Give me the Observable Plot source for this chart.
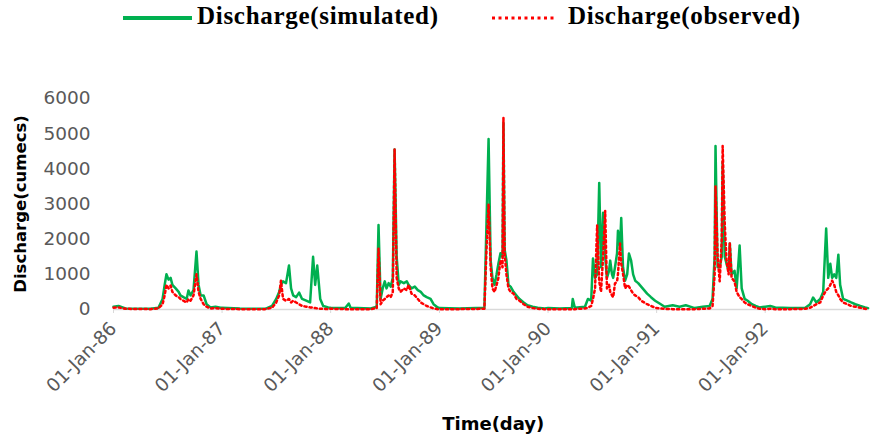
<!DOCTYPE html>
<html>
<head>
<meta charset="utf-8">
<script src="https://cdn.jsdelivr.net/npm/d3@7"></script>
<script src="https://cdn.jsdelivr.net/npm/@observablehq/plot@0.6"></script>
<style>
  html, body { margin: 0; padding: 0; background: #fff; }
  #wrap { position: relative; width: 870px; height: 441px; overflow: hidden; }
  #legend { position: relative; width: 870px; height: 40px; }
  .lg-text { position: absolute; top: 1px; font-family: "Liberation Serif", serif; font-weight: bold; font-size: 25px; letter-spacing: 0.7px; line-height: 30px; color: #000; white-space: nowrap; }
  .lg-line { position: absolute; top: 12px; }
</style>
</head>
<body>
<div id="wrap">
  <div id="legend">
    <svg class="lg-line" style="left:123px" width="70" height="12"><line x1="0" x2="69" y1="6" y2="6" stroke="#00b050" stroke-width="4"/></svg>
    <div class="lg-text" style="left:197px">Discharge(simulated)</div>
    <svg class="lg-line" style="left:492px" width="66" height="12"><line x1="0" x2="65" y1="6" y2="6" stroke="#ff0000" stroke-width="3" stroke-dasharray="3,3.5"/></svg>
    <div class="lg-text" style="left:568px">Discharge(observed)</div>
  </div>
  <div id="chart"></div>
</div>
<script>
const seriesNames = ["Discharge(simulated)", "Discharge(observed)"];
const yTicks = [0, 1000, 2000, 3000, 4000, 5000, 6000];
const xTickYears = ["1986-01-01","1987-01-01","1988-01-01","1989-01-01","1990-01-01","1991-01-01","1992-01-01"];

const dates = [
  // 1986
  "1986-01-01","1986-01-18","1986-02-10","1986-05-05","1986-06-01","1986-06-15","1986-06-22","1986-06-28","1986-07-05","1986-07-12",
  "1986-07-18","1986-07-29","1986-08-08","1986-08-14","1986-08-24","1986-09-04","1986-09-10","1986-09-17","1986-09-27","1986-10-07",
  "1986-10-14","1986-10-21","1986-10-31","1986-11-10","1986-11-23","1986-12-10","1986-12-27",
  // 1987
  "1987-01-01","1987-03-02","1987-05-26","1987-06-18","1987-07-02","1987-07-12","1987-07-18","1987-07-25","1987-08-04","1987-08-14",
  "1987-08-21","1987-08-28","1987-09-07","1987-09-17","1987-09-27","1987-10-11","1987-10-24","1987-11-03","1987-11-10","1987-11-17",
  "1987-11-27","1987-12-07","1987-12-24",
  // 1988
  "1988-01-01","1988-02-19","1988-03-02","1988-03-08","1988-05-15","1988-06-04","1988-06-10","1988-06-17","1988-06-24","1988-07-01",
  "1988-07-07","1988-07-14","1988-07-21","1988-07-28","1988-08-03","1988-08-10","1988-08-17","1988-08-23","1988-09-03","1988-09-13",
  "1988-09-19","1988-09-29","1988-10-10","1988-10-20","1988-10-30","1988-11-09","1988-11-19","1988-12-02","1988-12-12","1988-12-26",
  // 1989
  "1989-01-01","1989-03-08","1989-06-01","1989-06-08","1989-06-15","1989-06-22","1989-06-28","1989-07-05","1989-07-12","1989-07-18",
  "1989-07-25","1989-08-01","1989-08-04","1989-08-08","1989-08-14","1989-08-21","1989-08-28","1989-09-07","1989-09-17","1989-09-27",
  "1989-10-11","1989-10-24","1989-11-10","1989-11-27","1989-12-20",
  // 1990
  "1990-01-01","1990-02-10","1990-03-22","1990-03-25","1990-04-01","1990-05-05","1990-05-15","1990-05-26","1990-06-01","1990-06-08",
  "1990-06-15","1990-06-22","1990-06-28","1990-07-05","1990-07-12","1990-07-18","1990-07-25","1990-07-29","1990-08-04","1990-08-08",
  "1990-08-14","1990-08-21","1990-08-24","1990-08-31","1990-09-04","1990-09-10","1990-09-17","1990-09-24","1990-09-30","1990-10-07",
  "1990-10-14","1990-10-21","1990-10-31","1990-11-10","1990-11-20","1990-11-30","1990-12-13","1990-12-27",
  // 1991
  "1991-01-11","1991-01-28","1991-02-24","1991-03-19","1991-04-09","1991-05-09","1991-06-05","1991-06-28","1991-07-08","1991-07-15",
  "1991-07-18","1991-07-25","1991-08-01","1991-08-08","1991-08-11","1991-08-18","1991-08-24","1991-08-31","1991-09-04","1991-09-10",
  "1991-09-20","1991-09-27","1991-10-07","1991-10-14","1991-10-24","1991-11-03","1991-11-17","1991-11-30","1991-12-13",
  // 1992
  "1992-01-01","1992-01-18","1992-02-04","1992-03-25","1992-05-15","1992-05-31","1992-06-10","1992-06-21","1992-07-04","1992-07-14",
  "1992-07-24","1992-07-31","1992-08-07","1992-08-13","1992-08-20","1992-08-27","1992-09-03","1992-09-09","1992-09-19","1992-10-03",
  "1992-10-16","1992-10-30","1992-11-16","1992-12-02","1992-12-12"
];

const simulated = [
  // 1986
  80,100,30,20,50,300,700,1000,850,900,
  700,600,500,400,350,300,540,400,550,1650,
  700,400,400,150,60,80,50,
  // 1987
  50,30,20,100,300,500,700,800,750,1250,
  600,400,350,480,300,250,200,1500,700,1250,
  300,100,60,
  // 1988
  50,40,170,50,30,80,2400,300,600,800,
  600,750,650,900,4550,1500,700,800,750,800,
  700,600,650,550,500,400,350,300,150,60,
  // 1989
  40,30,50,2450,4850,1400,900,700,1000,1300,
  1600,1500,5300,1700,1400,700,650,500,400,300,
  200,120,80,50,30,
  // 1990
  40,30,40,300,50,80,300,250,1450,900,
  1000,3600,1200,2750,1500,900,1100,1390,1000,900,
  1200,1600,2240,1800,2600,1200,820,1000,1590,1400,
  1000,820,750,650,550,450,350,250,
  // 1991
  170,80,120,80,120,40,80,100,300,1500,
  4650,1200,1200,1500,4200,1500,1300,1100,1880,1000,
  1100,600,1820,600,300,250,150,100,60,
  // 1992
  80,100,60,40,50,150,340,200,300,500,
  2300,900,1300,900,1000,900,1560,700,300,250,
  200,150,100,60,40
];

const observed = [
  // 1986
  50,60,20,10,30,150,400,700,600,680,
  500,400,350,300,250,200,300,250,400,1000,
  500,300,150,80,30,40,20,
  // 1987
  20,10,10,50,200,400,820,300,250,300,
  200,250,200,150,100,80,60,50,40,30,
  20,20,10,
  // 1988
  20,10,10,10,10,40,1730,150,250,300,
  350,400,350,500,4550,900,600,500,600,550,
  700,450,400,300,200,150,100,60,30,10,
  // 1989
  10,10,20,1700,3000,1200,600,500,700,900,
  1400,1200,5450,1600,1000,600,500,450,300,250,
  150,80,40,20,10,
  // 1990
  10,10,10,10,10,30,50,100,300,600,
  2390,800,500,1500,2800,600,700,500,400,350,
  740,800,1000,1880,1300,1020,600,700,650,550,
  450,400,350,250,200,150,100,50,
  // 1991
  30,20,10,10,10,10,20,30,100,1000,
  3500,1500,800,2000,4650,2440,1400,1000,1880,900,
  800,500,350,300,200,150,100,50,20,
  // 1992
  10,20,10,10,20,50,100,150,200,400,
  540,600,700,820,700,500,400,300,200,150,
  100,80,50,20,10
];

const parse = d3.utcParse("%Y-%m-%d");
const rows = dates.map((d, i) => ({date: parse(d), sim: simulated[i], obs: observed[i]}));

const chart = Plot.plot({
  width: 870,
  height: 401,
  marginLeft: 113,
  marginRight: 1.5,
  marginTop: 58,
  marginBottom: 132,
  style: {fontFamily: "DejaVu Sans", fontSize: "18.5px", color: "#595959", background: "#fff"},
  x: {type: "utc", domain: [parse("1986-01-01"), parse("1992-12-15")]},
  y: {domain: [0, 6000]},
  marks: [
    Plot.ruleY([0], {stroke: "#d9d9d9", strokeWidth: 1.5}),
    Plot.axisX({ticks: xTickYears.map(parse), tickFormat: d3.utcFormat("%d-%b-%y"), tickRotate: -45, tickSize: 4, tickPadding: 12, stroke: "#d9d9d9", label: null}),
    Plot.axisY({ticks: yTicks, tickFormat: d => String(d), tickSize: 0, tickPadding: 23, label: null}),
    Plot.lineY(rows, {x: "date", y: "sim", stroke: "#00b050", strokeWidth: 2.5, strokeLinejoin: "round"}),
    Plot.lineY(rows, {x: "date", y: "obs", stroke: "#ff0000", strokeWidth: 2.5, strokeDasharray: "2.2,3"}),
    Plot.text(["Discharge(cumecs)"], {frameAnchor: "left", textAnchor: "middle", dx: -93, rotate: -90, fontWeight: "bold", fontSize: 16.5, fill: "#000", fontFamily: "DejaVu Sans"}),
    Plot.text(["Time(day)"], {frameAnchor: "bottom", textAnchor: "middle", dy: 120, dx: 2, fontWeight: "bold", fontSize: 18, fill: "#000", fontFamily: "DejaVu Sans"})
  ]
});
document.getElementById("chart").appendChild(chart);
</script>
</body>
</html>
